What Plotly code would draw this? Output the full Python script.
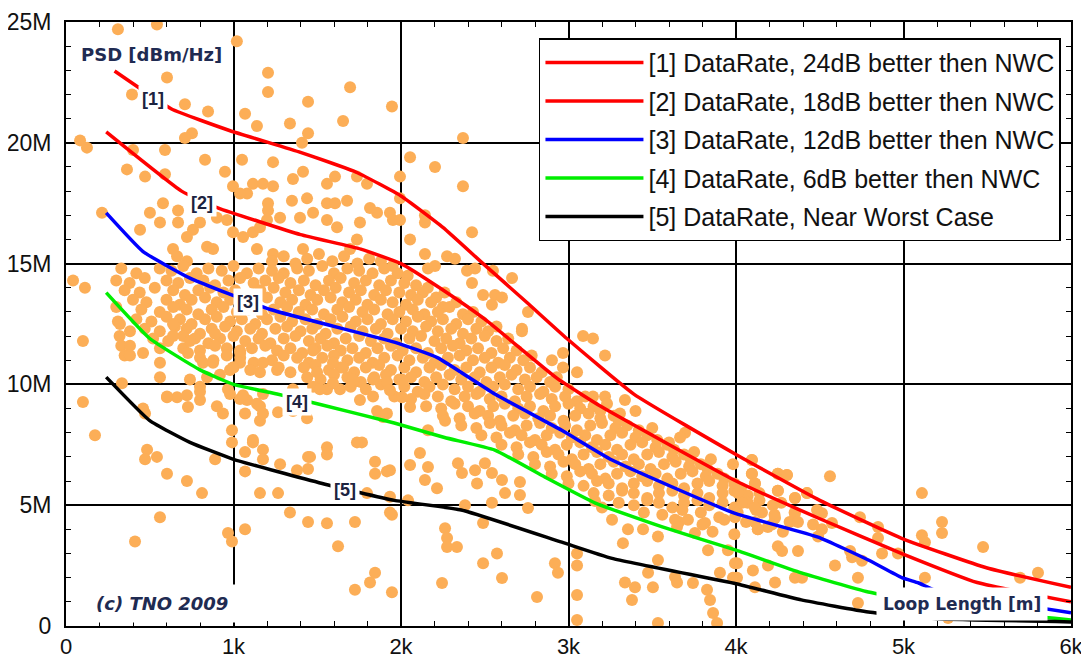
import plotly.graph_objects as go

# ---------------- data ----------------
x_tick_vals = [0, 1000, 2000, 3000, 4000, 5000, 6000]
x_tick_text = ["0", "1k", "2k", "3k", "4k", "5k", "6k"]
y_tick_vals = [0, 5, 10, 15, 20, 25]
y_tick_text = ["0", "5M", "10M", "15M", "20M", "25M"]

series_names = [
    "[1] DataRate, 24dB better then NWC",
    "[2] DataRate, 18dB better then NWC",
    "[3] DataRate, 12dB better then NWC",
    "[4] DataRate, 6dB better then NWC",
    "[5] DataRate, Near Worst Case",
]
series_colors = ["#ff0000", "#ff0000", "#0000ff", "#00ee00", "#000000"]

line1_x = [290, 630, 980, 1400, 1740, 2000, 2250, 2490, 2750, 2990, 3390, 4000, 4500, 5000, 5500, 6000]
line1_y = [22.97, 21.4, 20.5, 19.6, 18.76, 17.8, 16.5, 15.0, 13.4, 11.9, 9.6, 7.1, 5.2, 3.6, 2.4, 1.6]
line2_x = [240, 690, 910, 1400, 1760, 2000, 2230, 2500, 2930, 3200, 4000, 4490, 4990, 5440, 6000]
line2_y = [20.45, 18.0, 17.3, 16.2, 15.6, 15.0, 14.0, 12.7, 10.26, 9.06, 6.0, 4.47, 3.0, 1.8, 1.0]
line3_x = [240, 460, 740, 1220, 1960, 2220, 2560, 2960, 3260, 3990, 4490, 4790, 4990, 5090, 5200, 6000]
line3_y = [17.1, 15.5, 14.4, 13.1, 11.75, 11.1, 9.6, 8.1, 6.87, 4.67, 3.68, 2.73, 2.0, 1.78, 1.45, 0.55]
line4_x = [240, 500, 800, 1000, 1260, 1500, 1960, 2260, 2560, 2860, 3160, 3560, 4000, 4390, 4790, 5500, 6000]
line4_y = [13.8, 11.9, 10.6, 10.0, 9.6, 9.2, 8.4, 7.8, 7.28, 6.16, 5.09, 4.1, 3.14, 2.2, 1.41, 0.6, 0.25]
line5_x = [240, 500, 740, 1000, 1530, 1960, 2360, 2960, 3260, 4000, 4390, 4790, 5200, 6000]
line5_y = [10.3, 8.5, 7.6, 6.9, 5.9, 5.2, 4.8, 3.47, 2.8, 1.75, 1.08, 0.58, 0.3, 0.17]

label_text = ["[1]", "[2]", "[3]", "[4]", "[5]"]
label_x = [519, 812, 1087, 1379, 1666]
label_y = [21.8, 17.5, 13.4, 9.27, 5.63]

# measured loops (loop length [m], data rate [Mbit/s])
upper_points = [
    (310, 24.7), (543, 24.9), (1020, 24.2), (603, 22.7), (394, 22.0), (710, 21.6), (848, 21.3),
    (1069, 21.2), (1206, 22.9), (1206, 22.1), (1140, 20.7), (1337, 20.8), (1445, 21.7), (1696, 22.3),
    (1654, 20.9), (1946, 21.5), (1445, 20.4), (1409, 20.0), (752, 20.4), (710, 20.2), (84, 20.1),
    (125, 19.8), (400, 19.7), (591, 19.7), (830, 19.3), (1051, 19.3), (1236, 19.2), (364, 18.9),
    (472, 18.6), (591, 18.7), (949, 18.8), (997, 18.2), (1081, 17.9), (1116, 18.3), (1176, 18.3),
    (1236, 18.2), (1355, 18.5), (1415, 18.8), (1558, 18.3), (1606, 18.6), (1737, 18.6), (1797, 18.3),
    (1349, 17.6), (1439, 17.7), (1558, 17.5), (1606, 17.5), (1678, 17.6), (1206, 17.5), (1206, 17.2),
    (1039, 17.9), (579, 17.5), (501, 17.1), (669, 17.2), (215, 17.1), (442, 16.4), (561, 16.7),
    (669, 16.7), (758, 16.4), (800, 16.7), (722, 16.1), (901, 16.9), (961, 16.8), (997, 16.3),
    (1057, 16.1), (1116, 16.3), (1158, 16.5), (1200, 16.8), (1278, 16.9), (1397, 16.9), (1475, 17.1),
    (1558, 16.8), (1618, 16.5), (1755, 16.7), (1857, 17.1), (1934, 17.1), (1815, 17.3), (1737, 16.0),
    (842, 15.7), (878, 15.6), (639, 15.6), (663, 15.3), (722, 15.1), (1140, 15.6), (1236, 15.4),
    (1415, 15.6), (1696, 15.6), (1952, 16.8), (1994, 17.7), (2370, 20.2), (2054, 19.4), (2203, 19.0),
    (1994, 18.6), (2370, 18.2), (2143, 17.0), (2143, 16.7), (1994, 16.8), (2424, 16.3), (2054, 16.0),
    (2143, 15.4), (2203, 14.9), (2161, 14.8), (2275, 15.3), (2322, 15.2), (2394, 14.7), (2442, 14.8),
    (2424, 14.2), (2549, 14.7), (2663, 14.4), (2490, 13.7), (2561, 13.7), (2603, 13.6), (2543, 13.3),
    (2758, 13.0), (2722, 12.3), (2722, 12.2), (2901, 11.0), (2967, 11.3), (2967, 10.7), (3051, 10.5),
    (3087, 12.0), (3146, 11.9), (3218, 11.2), (3337, 9.35), (3218, 9.5), (3146, 9.5), (3230, 9.2),
    (3307, 8.8), (3400, 8.9), (3500, 8.2), (3600, 7.6), (3696, 8.0), (3666, 7.8), (3750, 7.2),
    (3850, 6.9), (3982, 6.7), (4095, 6.87), (4095, 6.3), (4113, 5.9), (4250, 6.3), (4304, 6.25),
    (4250, 5.6), (4424, 5.5), (4352, 5.3), (4561, 6.2), (42, 14.3), (113, 14.0), (300, 13.2),
    (310, 12.6), (320, 12.0), (330, 11.6), (350, 11.2),
]

dense_points = [
    (1230, 15.1), (1300, 15.3), (1370, 15.0), (1440, 15.2), (1510, 15.4), (1590, 15.1), (1660, 15.3),
    (1740, 15.0), (1810, 15.2), (1880, 15.1), (1950, 14.9),
    (330, 14.8), (420, 14.6), (560, 14.8), (630, 14.7), (700, 14.9), (780, 14.6), (850, 14.8),
    (930, 14.7), (1000, 14.9), (1080, 14.6), (1150, 14.8), (1230, 14.7), (1300, 14.6), (1380, 14.8),
    (1450, 14.7), (1530, 14.9), (1600, 14.6), (1680, 14.8), (1750, 14.7), (1830, 14.6), (1900, 14.8),
    (1980, 14.6), (2040, 14.5),
    (300, 14.3), (380, 14.2), (470, 14.4), (600, 14.3), (670, 14.2), (740, 14.4), (820, 14.3),
    (890, 14.1), (970, 14.3), (1040, 14.4), (1120, 14.2), (1190, 14.3), (1270, 14.4), (1340, 14.2),
    (1420, 14.3), (1490, 14.1), (1570, 14.3), (1640, 14.4), (1720, 14.2), (1790, 14.3), (1870, 14.1),
    (1940, 14.3), (2020, 14.2), (2090, 14.1), (2160, 14.0),
    (350, 13.9), (440, 13.8), (530, 14.0), (640, 13.9), (710, 13.7), (790, 13.9), (860, 14.0),
    (940, 13.8), (1010, 13.9), (1090, 13.7), (1160, 13.9), (1240, 14.0), (1310, 13.8), (1390, 13.9),
    (1460, 13.7), (1540, 13.9), (1610, 14.0), (1690, 13.8), (1760, 13.9), (1840, 13.7), (1910, 13.9),
    (1990, 13.8), (2060, 13.7), (2130, 13.8), (2210, 13.6), (2260, 13.8),
    (400, 13.5), (480, 13.4), (600, 13.5), (680, 13.3), (750, 13.5), (830, 13.6), (900, 13.4),
    (980, 13.5), (1050, 13.3), (1130, 13.5), (1200, 13.6), (1280, 13.4), (1350, 13.5), (1430, 13.3),
    (1500, 13.5), (1580, 13.6), (1650, 13.4), (1730, 13.5), (1800, 13.3), (1880, 13.5), (1950, 13.4),
    (2030, 13.3), (2100, 13.5), (2180, 13.4), (2250, 13.2), (2330, 13.4),
    (450, 13.1), (560, 13.0), (640, 13.2), (720, 13.1), (790, 12.9), (870, 13.1), (940, 13.2),
    (1020, 13.0), (1090, 13.1), (1170, 12.9), (1240, 13.1), (1320, 13.2), (1390, 13.0), (1470, 13.1),
    (1540, 12.9), (1620, 13.1), (1690, 13.2), (1770, 13.0), (1840, 13.1), (1920, 12.9), (1990, 13.0),
    (2070, 13.1), (2140, 12.9), (2220, 13.0), (2290, 13.2), (2370, 12.9), (2430, 13.0),
    (420, 12.7), (510, 12.6), (600, 12.8), (680, 12.7), (750, 12.5), (830, 12.7), (900, 12.8),
    (980, 12.6), (1050, 12.7), (1130, 12.5), (1200, 12.7), (1280, 12.8), (1350, 12.6), (1430, 12.7),
    (1500, 12.5), (1580, 12.7), (1650, 12.8), (1730, 12.6), (1800, 12.7), (1880, 12.5), (1950, 12.7),
    (2030, 12.6), (2100, 12.8), (2180, 12.6), (2250, 12.7), (2330, 12.5), (2400, 12.7), (2480, 12.6),
    (470, 12.3), (560, 12.2), (650, 12.4), (720, 12.3), (800, 12.1), (870, 12.3), (950, 12.4),
    (1020, 12.2), (1100, 12.3), (1170, 12.1), (1250, 12.3), (1320, 12.4), (1400, 12.2), (1470, 12.3),
    (1550, 12.1), (1620, 12.3), (1700, 12.4), (1770, 12.2), (1850, 12.3), (1920, 12.1), (2000, 12.3),
    (2070, 12.2), (2150, 12.4), (2220, 12.2), (2300, 12.3), (2370, 12.1), (2450, 12.3), (2520, 12.2),
    (2570, 12.4),
    (520, 11.9), (610, 11.8), (700, 12.0), (770, 11.9), (850, 11.7), (920, 11.9), (1000, 12.0),
    (1070, 11.8), (1150, 11.9), (1220, 11.7), (1300, 11.9), (1370, 12.0), (1450, 11.8), (1520, 11.9),
    (1600, 11.7), (1670, 11.9), (1750, 12.0), (1820, 11.8), (1900, 11.9), (1970, 11.7), (2050, 11.9),
    (2120, 12.0), (2200, 11.8), (2270, 11.9), (2350, 11.7), (2420, 11.9), (2500, 12.0), (2570, 11.8),
    (2640, 11.9),
    (700, 11.5), (800, 11.4), (890, 11.6), (960, 11.5), (1040, 11.3), (1110, 11.5), (1190, 11.6),
    (1260, 11.4), (1340, 11.5), (1410, 11.3), (1490, 11.5), (1560, 11.6), (1640, 11.4), (1710, 11.5),
    (1790, 11.3), (1860, 11.5), (1940, 11.6), (2010, 11.4), (2090, 11.5), (2160, 11.3), (2240, 11.5),
    (2310, 11.6), (2390, 11.4), (2460, 11.5), (2540, 11.3), (2610, 11.5), (2690, 11.4),
    (800, 11.1), (880, 11.0), (960, 11.2), (1040, 11.1), (1120, 10.9), (1230, 11.0), (1300, 11.2),
    (1380, 11.1), (1450, 10.9), (1530, 11.1), (1600, 11.2), (1680, 11.0), (1750, 11.1), (1830, 10.9),
    (1900, 11.1), (1980, 11.2), (2050, 11.0), (2130, 11.1), (2200, 10.9), (2280, 11.1), (2350, 11.2),
    (2430, 11.0), (2500, 11.1), (2580, 10.9), (2650, 11.1), (2730, 11.0), (2780, 11.2),
    (1000, 10.7), (1100, 10.6), (1270, 10.7), (1340, 10.5), (1420, 10.7), (1490, 10.8), (1570, 10.6),
    (1640, 10.7), (1720, 10.5), (1790, 10.7), (1870, 10.8), (1940, 10.6), (2020, 10.7), (2090, 10.5),
    (2170, 10.7), (2240, 10.8), (2320, 10.6), (2390, 10.7), (2470, 10.5), (2540, 10.7), (2620, 10.8),
    (2690, 10.6), (2770, 10.7), (2840, 10.5),
    (1440, 10.3), (1520, 10.2), (1600, 10.4), (1680, 10.3), (1760, 10.1), (1840, 10.3), (1910, 10.4),
    (1990, 10.2), (2060, 10.3), (2140, 10.1), (2210, 10.3), (2290, 10.4), (2360, 10.2), (2440, 10.3),
    (2510, 10.1), (2590, 10.3), (2660, 10.4), (2740, 10.2), (2810, 10.3), (2890, 10.1), (2930, 10.3),
    (1700, 9.9), (1790, 9.8), (1880, 10.0), (2020, 9.9), (2100, 9.7), (2170, 9.9), (2250, 10.0),
    (2320, 9.8), (2400, 9.9), (2470, 9.7), (2550, 9.9), (2620, 10.0), (2700, 9.8), (2770, 9.9),
    (2850, 9.7), (2920, 9.9), (3000, 9.8),
    (1960, 9.5), (2060, 9.4), (2140, 9.6), (2220, 9.5), (2300, 9.3), (2380, 9.5), (2450, 9.6),
    (2530, 9.4), (2600, 9.5), (2680, 9.3), (2750, 9.5), (2830, 9.6), (2900, 9.4), (2980, 9.5),
    (3050, 9.3), (3100, 9.5),
    (2150, 9.1), (2240, 9.0), (2320, 9.2), (2400, 9.1), (2470, 8.9), (2550, 9.1), (2620, 9.2),
    (2700, 9.0), (2770, 9.1), (2850, 8.9), (2920, 9.1), (3000, 9.2), (3070, 9.0), (3150, 9.1),
    (3190, 8.9),
    (2250, 8.7), (2350, 8.6), (2440, 8.8), (2520, 8.7), (2590, 8.5), (2670, 8.7), (2740, 8.8),
    (2820, 8.6), (2890, 8.7), (2970, 8.5), (3040, 8.7), (3120, 8.8), (3190, 8.6), (3270, 8.7),
    (3300, 8.5),
    (2360, 8.3), (2450, 8.2), (2530, 8.4), (2600, 8.3), (2680, 8.1), (2750, 8.3), (2830, 8.4),
    (2900, 8.2), (2980, 8.3), (3050, 8.1), (3130, 8.3), (3200, 8.4), (3280, 8.2), (3350, 8.3),
    (3420, 8.1),
    (2480, 7.9), (2570, 7.8), (2650, 8.0), (2720, 7.9), (2800, 7.7), (2870, 7.9), (2950, 8.0),
    (3020, 7.8), (3100, 7.9), (3170, 7.7), (3250, 7.9), (3320, 8.0), (3400, 7.8), (3470, 7.9),
    (3530, 7.7),
    (2600, 7.5), (2690, 7.4), (2770, 7.6), (2840, 7.5), (2920, 7.3), (2990, 7.5), (3070, 7.6),
    (3140, 7.4), (3220, 7.5), (3290, 7.3), (3370, 7.5), (3440, 7.6), (3520, 7.4), (3590, 7.5),
    (3630, 7.3),
    (2700, 7.1), (2790, 7.0), (2870, 7.2), (2940, 7.1), (3020, 6.9), (3090, 7.1), (3170, 7.2),
    (3240, 7.0), (3320, 7.1), (3390, 6.9), (3470, 7.1), (3540, 7.2), (3620, 7.0), (3690, 7.1),
    (3730, 6.9),
    (2800, 6.7), (2890, 6.6), (2970, 6.8), (3040, 6.7), (3120, 6.5), (3190, 6.7), (3270, 6.8),
    (3340, 6.6), (3420, 6.7), (3490, 6.5), (3570, 6.7), (3640, 6.8), (3720, 6.6), (3790, 6.7),
    (3830, 6.5),
    (2900, 6.3), (2990, 6.2), (3070, 6.4), (3140, 6.3), (3220, 6.1), (3290, 6.3), (3370, 6.4),
    (3440, 6.2), (3520, 6.3), (3590, 6.1), (3670, 6.3), (3740, 6.4), (3820, 6.2), (3890, 6.3),
    (3930, 6.1),
    (3000, 5.9), (3090, 5.8), (3170, 6.0), (3240, 5.9), (3320, 5.7), (3390, 5.9), (3470, 6.0),
    (3540, 5.8), (3620, 5.9), (3690, 5.7), (3770, 5.9), (3840, 6.0), (3920, 5.8), (3990, 5.9),
    (4030, 5.7),
    (3150, 5.5), (3240, 5.4), (3320, 5.6), (3390, 5.5), (3470, 5.3), (3540, 5.5), (3620, 5.6),
    (3690, 5.4), (3770, 5.5), (3840, 5.3), (3920, 5.5), (3990, 5.6), (4070, 5.4), (4140, 5.5),
    (3300, 5.1), (3390, 5.0), (3470, 5.2), (3540, 5.1), (3620, 4.9), (3690, 5.1), (3770, 5.2),
    (3840, 5.0), (3920, 5.1), (3990, 4.9), (4070, 5.1), (4140, 5.2), (4220, 5.0), (4270, 5.1),
    (3450, 4.7), (3560, 4.6), (3680, 4.8), (3790, 4.7), (3900, 4.5), (4010, 4.7), (4120, 4.8),
    (4230, 4.6), (4350, 4.7),
    (3660, 4.3), (3800, 4.2), (3930, 4.4), (4060, 4.3), (4190, 4.1), (4320, 4.3), (4460, 4.2),
    (3860, 3.9), (3990, 3.8), (4130, 4.0), (4280, 3.9),
]

middle_points = [
    (101, 11.8), (322, 12.5), (382, 12.2), (382, 11.6), (382, 11.2), (460, 11.3), (561, 11.5),
    (561, 10.9), (639, 12.5), (639, 12.0), (740, 11.8), (728, 11.3), (890, 12.1), (818, 10.9),
    (878, 10.9), (561, 10.3), (740, 10.2), (842, 10.3), (800, 9.9), (979, 10.6), (1039, 11.4),
    (1039, 10.9), (1158, 10.5), (1176, 10.9), (1260, 10.6), (1475, 11.4), (1499, 10.5), (1594, 10.9),
    (1654, 10.7), (1714, 10.1), (1833, 10.2), (1916, 10.1), (1755, 9.35), (1833, 9.5), (1857, 8.9),
    (1916, 8.8), (1475, 9.9), (1558, 9.8), (1636, 9.8), (1439, 8.6), (1355, 8.9), (1158, 9.1),
    (1158, 8.5), (1081, 9.35), (1069, 8.8), (1176, 9.6), (1039, 9.4), (979, 9.6), (901, 9.1),
    (937, 8.8), (800, 9.7), (800, 9.35), (722, 9.55), (728, 9.06), (663, 9.47), (603, 9.47),
    (460, 9.0), (472, 8.8), (334, 10.05), (101, 9.27), (603, 9.5), (967, 9.8), (1057, 9.55),
    (1140, 9.2), (1176, 8.8), (1266, 8.85), (1355, 9.8), (1397, 9.35), (1516, 9.8), (1594, 10.05),
    (1714, 10.2), (1893, 8.65), (1934, 9.76), (2161, 8.1), (2263, 8.5), (2006, 10.2), (2054, 9.06),
    (2006, 9.47), (919, 10.4), (997, 10.7),
]

lower_points = [
    (173, 7.9), (484, 7.3), (472, 6.9), (543, 7.0), (603, 6.3), (722, 6.0), (812, 5.5), (890, 6.9),
    (991, 8.1), (991, 7.6), (1069, 7.2), (1069, 6.4), (1116, 7.6), (1176, 7.3), (1176, 6.9),
    (1278, 6.7), (1379, 6.45), (1445, 6.5), (1445, 7.0), (1558, 7.4), (1558, 7.1), (1767, 7.6),
    (1845, 6.8), (1845, 6.3), (1934, 6.45), (1158, 5.5), (1266, 5.5), (1337, 4.7), (1445, 4.3),
    (1558, 4.25), (1725, 4.3), (1946, 4.6), (561, 4.5), (412, 3.5), (967, 3.85), (991, 3.5),
    (1069, 4.0), (1624, 3.3), (1845, 2.2), (1815, 1.8), (1725, 1.5), (1946, 1.4), (1797, 5.5),
    (1934, 5.35), (1116, 7.7), (1457, 7.0), (1737, 7.6), (1916, 6.4), (1934, 4.7),
    (2113, 7.16), (2054, 6.66), (2161, 6.58), (2143, 6.04), (2215, 5.7), (2042, 5.2), (2340, 6.74),
    (2364, 6.33), (2442, 6.45), (2454, 5.9), (2501, 6.74), (2543, 6.33), (2603, 6.04), (2621, 5.5),
    (2710, 5.96), (2710, 5.42), (2758, 4.88), (2382, 5.0), (2543, 5.1), (2490, 4.26), (2263, 4.05),
    (2275, 3.64), (2275, 3.27), (2334, 3.27), (2490, 2.6), (2573, 3.0), (2603, 1.99), (2245, 1.78),
    (2812, 1.2), (2919, 2.6), (2937, 2.2), (3051, 3.0), (3051, 2.5), (3051, 1.28), (3051, 0.25),
    (3337, 1.8), (3379, 1.08), (3397, 1.6), (3504, 1.6), (3534, 2.73), (3475, 2.2), (3636, 2.03),
    (3648, 1.8), (3743, 1.78), (3827, 1.5), (3845, 1.08), (3863, 0.54), (3887, 0.12), (3534, 0.12),
    (3994, 2.6), (3982, 2.0), (3904, 2.2), (3325, 3.43), (3260, 4.4), (3355, 4.0), (3200, 4.9),
    (3158, 5.17), (3445, 4.0), (3534, 3.7), (3636, 4.4), (3648, 4.1), (3713, 4.4), (3755, 3.85),
    (3833, 3.14), (3952, 3.14), (3815, 4.26),
]

tail_points = [
    (4095, 6.87), (4095, 6.3), (4113, 5.9), (4250, 6.3), (4304, 6.25), (4250, 5.6), (4424, 5.5),
    (4352, 5.3), (4012, 5.5), (4036, 5.1), (4113, 4.9), (4155, 4.7), (3994, 4.5), (4113, 4.3),
    (4131, 4.0), (4233, 4.47), (4215, 4.2), (4352, 4.67), (4370, 4.3), (4484, 4.8), (4513, 4.67),
    (4573, 4.26), (4490, 3.7), (4513, 4.0), (4740, 4.5), (4848, 4.1), (4848, 3.64), (4681, 3.1),
    (4693, 2.85), (4872, 3.0), (4967, 3.0), (5110, 5.5), (5110, 3.76), (5128, 3.47), (5230, 4.3),
    (5230, 3.85), (5475, 3.27), (5696, 2.0), (5803, 2.2), (5128, 2.0), (4752, 2.7), (4591, 2.5),
    (4250, 3.3), (4275, 3.1), (4370, 3.1), (4191, 2.5), (4352, 2.0), (4394, 2.0), (4233, 1.8),
    (4101, 2.3), (4113, 1.6), (4006, 2.6), (4006, 2.0), (4728, 2.0), (4728, 0.95), (5266, 0.33),
]

# ---------------- figure ----------------
all_points = upper_points + dense_points + middle_points + lower_points + tail_points
pts_x = [p[0] for p in all_points]
pts_y = [p[1] for p in all_points]

fig = go.Figure()
fig.add_trace(go.Scatter(
    x=pts_x, y=pts_y, mode="markers", showlegend=False,
    marker=dict(size=12, color="#fcae57", line=dict(width=0)),
))

lines_x = [line1_x, line2_x, line3_x, line4_x, line5_x]
lines_y = [line1_y, line2_y, line3_y, line4_y, line5_y]
for i in range(5):
    fig.add_trace(go.Scatter(
        x=lines_x[i], y=lines_y[i], mode="lines", name=series_names[i],
        legendgroup=f"g{i}",
        line=dict(color=series_colors[i], width=3.5, shape="spline", smoothing=0.4),
    ))

annotations = []
for t, lx, ly in zip(label_text, label_x, label_y):
    annotations.append(dict(
        x=lx, y=ly, xref="x", yref="y", text=f"<b>{t}</b>", showarrow=False,
        xanchor="center", yanchor="middle",
        font=dict(family="Liberation Sans, Arial", size=18, color="#1c2340"),
        bgcolor="white", borderpad=3,
    ))

# free texts, placed by their pixel centre inside the plot frame
text_items = [
    ("<b>PSD [dBm/Hz]</b>", 151, 54, 18, 2),
    ("<b>Loop Length [m]</b>", 962, 604, 17, 6),
    ("<b><i>(c) TNO 2009</i></b>", 162, 603, 18, 8),
]
L, R, T, B = 66, 1071, 22, 626
for txt, px, py, fs, pad in text_items:
    annotations.append(dict(
        x=(px - L) / (R - L), y=(B - py) / (B - T), xref="x domain", yref="y domain",
        xanchor="center", yanchor="middle", text=txt, showarrow=False,
        font=dict(family="DejaVu Sans", size=fs, color="#1f2b52"), bgcolor="white", borderpad=pad,
    ))

axis_common = dict(
    showline=True, linecolor="black", linewidth=2, mirror="ticks",
    ticks="inside", ticklen=7, tickwidth=1.5, tickcolor="black",
    showgrid=True, gridcolor="black", gridwidth=1.5, zeroline=False,
    automargin=False,
)

fig.update_xaxes(
    range=[0, 6000], tickvals=x_tick_vals, ticktext=x_tick_text,
    minor=dict(dtick=200, ticks="inside", ticklen=5, tickcolor="black", tickwidth=1.2, showgrid=False),
    ticklabelstandoff=0,
    tickfont=dict(family="Liberation Sans, Arial", size=22, color="#111111"),
    **axis_common,
)
fig.update_yaxes(
    range=[0, 25], tickvals=y_tick_vals, ticktext=y_tick_text,
    minor=dict(dtick=1, ticks="inside", ticklen=5, tickcolor="black", tickwidth=1.2, showgrid=False),
    ticklabelstandoff=8,
    tickfont=dict(family="Liberation Sans, Arial", size=23, color="#111111"),
    **axis_common,
)

# the page body adds an 8 px offset, so the figure is 8 px smaller and margins shifted
fig.update_layout(
    width=1081, height=651,
    margin=dict(l=58, r=18, t=14, b=33),
    paper_bgcolor="white", plot_bgcolor="white",
    annotations=annotations,
    showlegend=True,
    legend=dict(
        x=0.99, y=0.973, xanchor="right", yanchor="top",
        bgcolor="white", bordercolor="black", borderwidth=1.5,
        font=dict(family="Liberation Sans, Arial", size=25, color="#111111"),
        tracegroupgap=3, itemwidth=98,
    ),
)

fig.write_html("out.html")
